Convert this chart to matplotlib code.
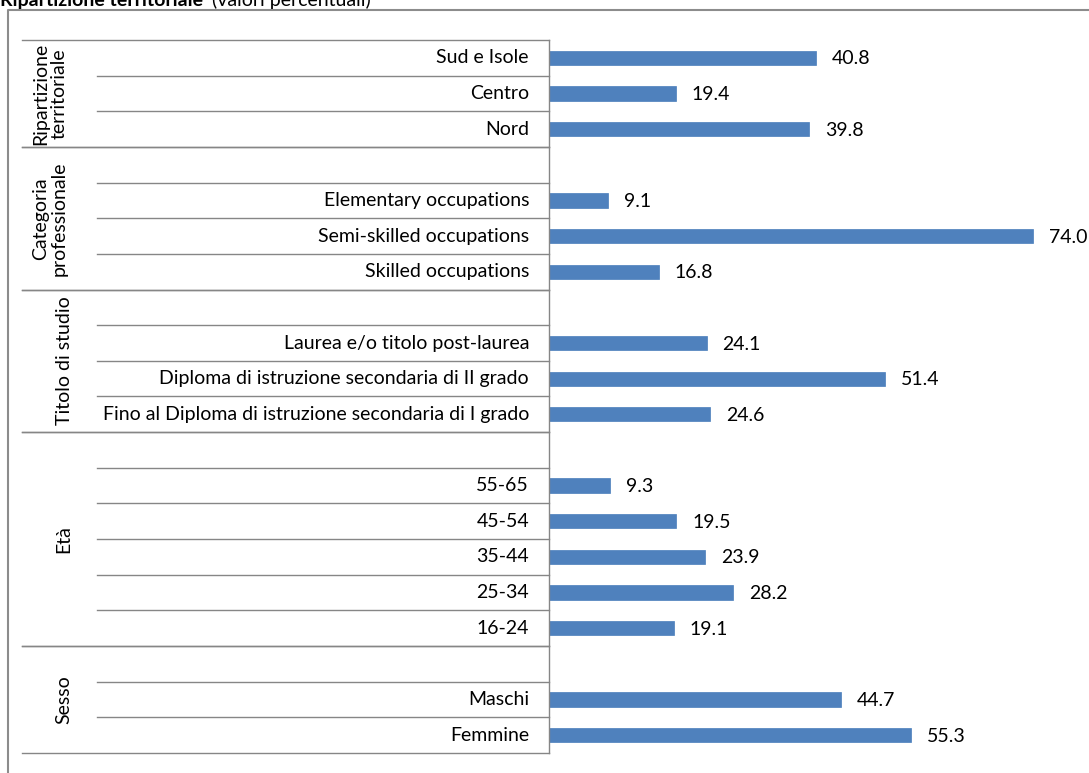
import matplotlib.pyplot as plt
import matplotlib.transforms as mtransforms
from matplotlib.lines import Line2D

# data, bottom row first (Excel draws the first category at the bottom)
sesso_labels = ['Femmine', 'Maschi', '']
sesso_values = [55.3, 44.7, None]

eta_labels = ['16-24', '25-34', '35-44', '45-54', '55-65', '']
eta_values = [19.1, 28.2, 23.9, 19.5, 9.3, None]

titolo_labels = ['Fino al Diploma di istruzione secondaria di I grado',
                 'Diploma di istruzione secondaria di II grado',
                 'Laurea e/o titolo post-laurea', '']
titolo_values = [24.6, 51.4, 24.1, None]

categoria_labels = ['Skilled occupations', 'Semi-skilled occupations',
                    'Elementary occupations', '']
categoria_values = [16.8, 74.0, 9.1, None]

ripartizione_labels = ['Nord', 'Centro', 'Sud e Isole']
ripartizione_values = [39.8, 19.4, 40.8]

group_names = ['Sesso', 'Età', 'Titolo di studio',
               'Categoria\nprofessionale', 'Ripartizione\nterritoriale']

groups = [
    (sesso_labels, sesso_values),
    (eta_labels, eta_values),
    (titolo_labels, titolo_values),
    (categoria_labels, categoria_values),
    (ripartizione_labels, ripartizione_values),
]

W, H = 1089, 773
BAR_COLOR = '#4F81BD'
LINE_COLOR = '#868686'
FONT = 'Lato'
FS = 14


def fx(px):
    return px / W


def fy(py):
    # pixel y from top -> figure fraction
    return 1 - py / H


def main():
    fig = plt.figure(figsize=(W / 100, H / 100), dpi=100)
    plt.rcParams['font.family'] = [FONT, 'DejaVu Sans']

    # plot area: axis at x=549, rows span y=40..753
    ax = fig.add_axes([fx(549), fy(753), fx(1072) - fx(549), fy(40) - fy(753)])

    # flatten groups
    labels, values, bounds = [], [], []
    for lab, val in groups:
        start = len(labels)
        labels += lab
        values += val
        bounds.append((start, len(labels)))
    n = len(labels)
    ys = list(range(n))

    ax.set_xlim(0, 80)
    ax.set_ylim(-0.5, n - 0.5)

    for y, v in zip(ys, values):
        if v is None:
            continue
        ax.barh(y, v, height=0.4, color=BAR_COLOR, edgecolor='#4A7EBB',
                linewidth=0.5)
        ax.annotate(f'{v:.1f}', xy=(v, y), xytext=(16, -1),
                    textcoords='offset pixels', ha='left', va='center',
                    fontsize=FS, color='black')

    # axis styling
    for s in ['top', 'right', 'bottom']:
        ax.spines[s].set_visible(False)
    ax.spines['left'].set_color(LINE_COLOR)
    ax.spines['left'].set_linewidth(1.0)
    ax.set_xticks([])
    ax.set_yticks([])
    ax.patch.set_alpha(0)

    # left-hand category area (figure x, data y)
    trans = mtransforms.blended_transform_factory(fig.transFigure, ax.transData)

    for y, lab in zip(ys, labels):
        if lab:
            ax.text(fx(529), y, lab, transform=trans, ha='right',
                    va='center', fontsize=FS)

    for gi, (start, stop) in enumerate(bounds):
        # group boundaries
        for b in (start - 0.5, stop - 0.5):
            fig.add_artist(Line2D([fx(22), fx(549)], [b, b], transform=trans,
                                  color=LINE_COLOR, lw=1.0))
        # row separators inside the group
        for b in range(start, stop - 1):
            fig.add_artist(Line2D([fx(97), fx(549)], [b + 0.5, b + 0.5],
                                  transform=trans, color=LINE_COLOR, lw=1.0))
        name = group_names[gi]
        gx = fx(50) if '\n' in name else fx(64)
        ax.text(gx, (start + stop - 1) / 2, name, transform=trans,
                rotation=90, ha='center', va='center', fontsize=FS,
                multialignment='center', linespacing=1.15)

    # outer frame (only top and left edges are visible)
    fig.add_artist(Line2D([fx(8), fx(8), 1.0], [0.0, fy(10), fy(10)],
                          transform=fig.transFigure, color='#8C8C8C', lw=1.5))

    # title, cut by the top edge of the image
    t1 = fig.text(0.0, fy(6), 'Ripartizione territoriale', ha='left',
                  va='baseline', fontsize=FS, fontweight='bold')
    fig.text(fx(212), fy(6), '(valori percentuali)', ha='left',
             va='baseline', fontsize=FS)

    fig.savefig('out.png', dpi=100)


if __name__ == '__main__':
    main()
